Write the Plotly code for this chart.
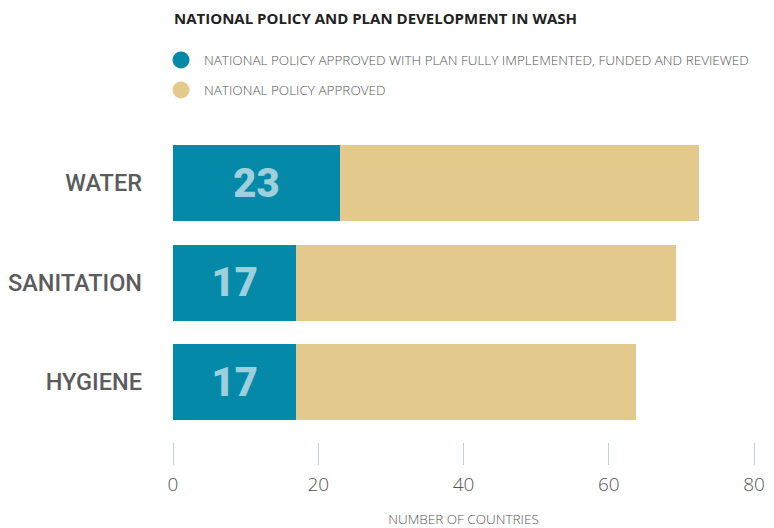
import plotly.graph_objects as go

categories = ["WATER", "SANITATION", "HYGIENE"]
implemented = [23, 17, 17]
approved_only = [49.4, 52.3, 46.8]
series_names = [
    "NATIONAL POLICY APPROVED WITH PLAN FULLY IMPLEMENTED, FUNDED AND REVIEWED",
    "NATIONAL POLICY APPROVED",
]
tick_vals = [0, 20, 40, 60, 80]
title_text = "NATIONAL POLICY AND PLAN DEVELOPMENT IN WASH"
x_title = "NUMBER OF COUNTRIES"

TEAL = "#0489a8"
TAN = "#e3c98c"

fig = go.Figure()
fig.add_trace(go.Bar(
    y=categories, x=implemented, orientation="h", name=series_names[0],
    marker=dict(color=TEAL, line=dict(width=0)),
    text=implemented, textposition="inside", insidetextanchor="middle",
    textangle=0,
    textfont=dict(family="Roboto", size=40, color="#9dcfdc", weight=900),
    showlegend=False, hoverinfo="skip",
))
fig.add_trace(go.Bar(
    y=categories, x=approved_only, orientation="h", name=series_names[1],
    marker=dict(color=TAN, line=dict(width=0)),
    showlegend=False, hoverinfo="skip",
))

# page has an 8px body margin; work in page pixels and offset the figure
OFF = 8
W, H = 774 - OFF, 528 - OFF
plot_l, plot_r, plot_t, plot_b = 173, 754, 130, 442
pw, ph = plot_r - plot_l, plot_b - plot_t
def px(x):
    return (x - plot_l) / pw
def py(y):
    return (plot_b - y) / ph

legend_y = [60, 90]
for name, col, yy in zip(series_names, [TEAL, TAN], legend_y):
    fig.add_shape(type="circle", xref="paper", yref="paper",
                  xsizemode="pixel", ysizemode="pixel",
                  xanchor=px(181), yanchor=py(yy),
                  x0=-8.5, x1=8.5, y0=-8.5, y1=8.5,
                  fillcolor=col, line=dict(width=0))
    fig.add_annotation(text=name, xref="paper", yref="paper",
                       x=px(202), y=py(yy), xanchor="left", yanchor="middle",
                       showarrow=False,
                       font=dict(family="Open Sans", size=13.5, color="#555555", weight=300))

fig.add_annotation(text="<b>" + title_text + "</b>", xref="paper", yref="paper",
                   x=px(172), y=py(18), xanchor="left", yanchor="middle",
                   showarrow=False,
                   font=dict(family="Open Sans", size=15, color="#222222"))

fig.update_layout(
    width=W, height=H,
    margin=dict(l=plot_l - OFF, r=774 - plot_r, t=plot_t - OFF, b=528 - plot_b),
    paper_bgcolor="white", plot_bgcolor="white",
    barmode="stack", bargap=0.236,
    xaxis=dict(
        range=[0, 80], tickvals=tick_vals, showgrid=False, zeroline=False,
        showline=False, ticks="outside", ticklen=22, tickwidth=1,
        tickcolor="#c2d3d7", ticklabelstandoff=3, automargin=False,
        tickfont=dict(family="Open Sans", size=19, color="#555555", weight=300),
        title=dict(text=x_title, standoff=19,
                   font=dict(family="Open Sans", size=13.5, color="#555555", weight=300)),
    ),
    yaxis=dict(
        categoryorder="array", categoryarray=categories,
        range=[2.603, -0.533], showgrid=False, zeroline=False, showline=False,
        ticks="", ticklabelstandoff=30, automargin=False,
        tickfont=dict(family="Roboto", size=23.5, color="#5a5b5d", weight=500),
    ),
)

fig.write_html("out.html")
